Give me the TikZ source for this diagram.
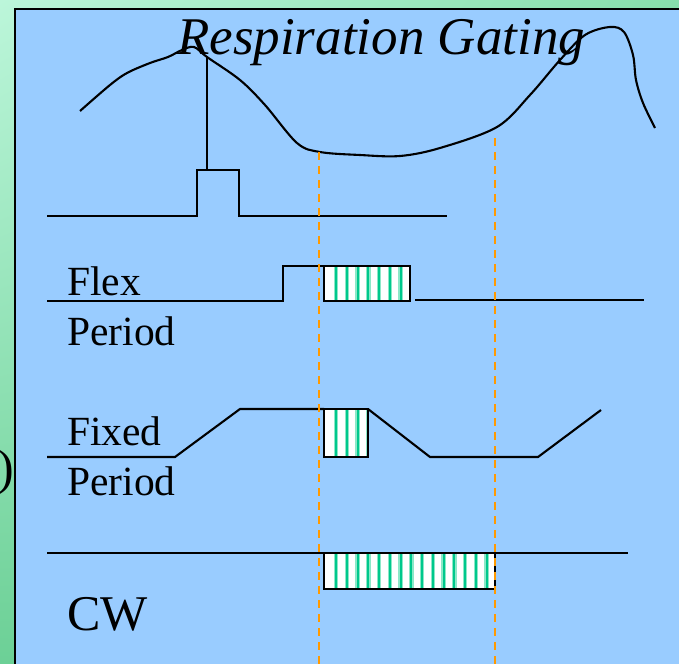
\documentclass[tikz,border=0pt]{standalone}
\usepackage{fontspec}
\setmainfont{Liberation Serif}
\usetikzlibrary{shadings}
\definecolor{skyb}{RGB}{153,204,255}
\definecolor{gtl}{RGB}{188,246,218}
\definecolor{gbl}{RGB}{108,208,150}
\definecolor{gtr}{RGB}{135,222,172}
\definecolor{gbr}{RGB}{110,210,150}
\definecolor{stripe}{RGB}{0,200,140}
\definecolor{stripehalo}{RGB}{140,232,200}
\definecolor{gateorange}{RGB}{255,153,0}
\newcommand\hatchbox[4]{%
  \fill[white] (#1,#2) rectangle (#3,#4);
  \begin{scope}
    \clip (#1,#2) rectangle (#3,#4);
    \foreach \k in {0,...,17} {
      \draw[stripehalo, line width=4.5bp] ({#1+12+10.75*\k},#2) -- ({#1+12+10.75*\k},#4);
      \draw[stripe, line width=2bp] ({#1+12+10.75*\k},#2) -- ({#1+12+10.75*\k},#4);
    }
  \end{scope}
  \draw[boxline] (#1,#2) rectangle (#3,#4);}
\tikzset{
  sig/.style={line width=2.1bp, line join=miter},
  boxline/.style={line width=2.6bp},
  gate/.style={gateorange, line width=2.5bp, dash pattern=on 8bp off 6bp},
  lbl/.style={inner sep=0pt, anchor=base west, font=\fontsize{41.5bp}{48bp}\selectfont},
}
\begin{document}
\begin{tikzpicture}[x=1bp,y=-1bp]
\useasboundingbox (0,0) rectangle (679,664);
\shade[upper left=gtl, lower left=gbl, upper right=gtr, lower right=gbr] (0,0) rectangle (679,664);
\fill[skyb] (15,9) rectangle (679,664);
\draw[line width=2.4bp] (15,664) -- (15,9) -- (679,9);

% stray parenthesis at left edge
\node[inner sep=0pt, anchor=base east, font=\fontsize{50bp}{56bp}\selectfont] (paren) at (14,484) {)};

% title
\node[inner sep=0pt, anchor=base west, font=\fontsize{53bp}{60bp}\selectfont\itshape] (title) at (177,55) {Respiration Gating};

% breathing curve
\coordinate (peak) at (207,57);
\draw[sig] plot[smooth, tension=0.55] coordinates {
  (80,111) (110,85) (127,73) (150,63) (168,57) (182,50) (194,47) (207,57) (240,80) (265,105)
  (297,143) (320,152) (360,155) (400,156) (440,148) (497,127) (530,95) (560,60)
  (585,35) (610,27) (624,32) (633,55) (636,80) (643,103) (655,128)};

% trigger pulse
\coordinate (pulseL) at (47,216);
\coordinate (pulseR) at (447,216);
\draw[sig] (peak) -- (207,170);
\draw[sig] (pulseL) -- (197,216) -- (197,170) -- (239,170) -- (239,216) -- (pulseR);

% Flex period
\node[lbl] (flex) at (67,295) {Flex};
\node[lbl] (flexp) at (67,345) {Period};
\draw[sig] (47,301) -- (283,301) -- (283,266) -- (324,266);
\hatchbox{324}{266}{410}{301}
\draw[sig] (415,300) -- (644,300);

% Fixed period
\node[lbl] (fixed) at (67,445) {Fixed};
\node[lbl] (fixedp) at (67,495) {Period};
\draw[sig] (47,457) -- (175,457) -- (240,409) -- (324,409);
\hatchbox{324}{409}{368}{457}
\draw[sig] (368,409) -- (430,457) -- (538,457) -- (601,410);

% CW
\node[inner sep=0pt, anchor=base west, font=\fontsize{50bp}{58bp}\selectfont] (cw) at (67,630) {CW};
\draw[sig] (47,553) -- (628,553);
\hatchbox{324}{553}{495}{589}

% gate markers
\draw[gate] (319,152) -- (319,664);
\draw[gate] (495,138) -- (495,664);
\end{tikzpicture}
\end{document}
